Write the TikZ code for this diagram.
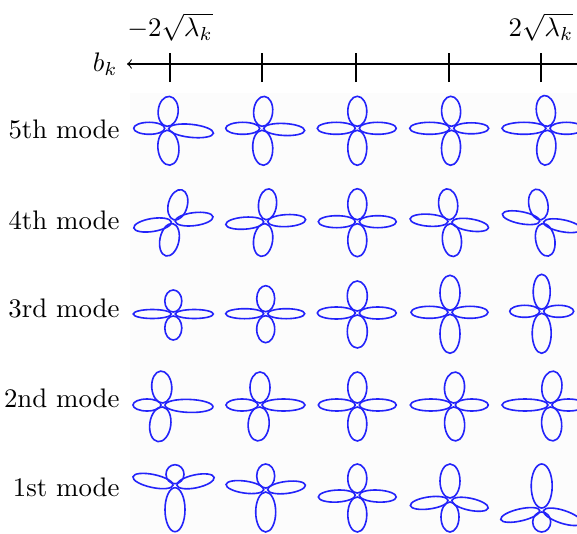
\documentclass[tikz,border=0pt]{standalone}
\definecolor{petalblue}{RGB}{35,35,250}
\newcommand{\flower}[3]{%
  \begin{scope}[shift={(#1,#2)}]
    \foreach \a/\l/\w in {#3}
      \draw[petal, rotate=\a] (1+\l/2,0) ellipse[x radius=\l/2-1, y radius=\w/2];
  \end{scope}}
\begin{document}
\begin{tikzpicture}[x=0.373pt, y=0.373pt, line width=0.4pt,
    petal/.style={petalblue, line width=0.6pt}]
  \useasboundingbox (0,0) rectangle (577,533);
  \fill[black!1] (130,0) rectangle (577,440);
  \node[anchor=east] (bk) at (127,469) {$b_k$};
  \coordinate (axend) at (577,469);
  \draw[->] (axend) -- (bk);
  \foreach \x in {170,262,356,449,541} \draw (\x,451) -- (\x,480);
  \node[inner sep=1pt] (lo) at (170,506) {$-2\sqrt{\lambda_k}$};
  \node[inner sep=1pt] (hi) at (541,506) {$2\sqrt{\lambda_k}$};
  \node[anchor=east] (m5) at (129,404) {5th mode};
  \node[anchor=east] (m4) at (129,313) {4th mode};
  \node[anchor=east] (m3) at (129,225) {3rd mode};
  \node[anchor=east] (m2) at (129,135) {2nd mode};
  \node[anchor=east] (m1) at (129,46) {1st mode};
  \flower{166.7}{404.7}{85/32/20, 275/37/21, 180/33/12, -6/47/13}
  \flower{261.7}{404.7}{85/32/19, 273/37/20, 180/36/12, -3/43/12}
  \flower{357.3}{404.7}{90/32/19, 270/37/19, 180/40/12, 0/39/12}
  \flower{451.7}{404.7}{92/32/19, 268/37/19, 180/42/12, 0/37/11}
  \flower{548}{404.7}{97/33/19, 265/37/19, 180/46/12, 0/35/12}
  \flower{173.3}{311.3}{75/33/19, 258/35/19, 189/40/13, 7/40/13}
  \flower{265.7}{311.3}{84/33/18, 262/35/19, 184/40/12, 3/40/12}
  \flower{357.3}{311.3}{90/33/19, 270/35/19, 180/39/12, 0/39/12}
  \flower{450}{311.3}{96/33/19, 276/35/19, 176/40/12, -9/39/12}
  \flower{541.7}{311.3}{101/33/19, 281/35/19, 169/40/12, -11/40/12}
  \flower{173.3}{219}{90/24/17, 270/26/17, 180/40/9, 0/40/9}
  \flower{265.7}{219.3}{90/28/18, 270/29/18, 180/40/10, 0/39/10}
  \flower{357.3}{220}{90/32/20, 270/35/20, 180/40/12, 0/39/12}
  \flower{450}{220.7}{90/37/20, 270/41/20, 180/39/12, 0/38/12}
  \flower{541.7}{221.7}{90/37/17, 270/42/19, 180/32/12, 0/32/12}
  \flower{163}{128}{94/34/20, 262/37/21, 180/30/12, -2/50/13}
  \flower{260}{128}{90/33/20, 266/36/21, 180/34/12, 0/45/12}
  \flower{357.3}{128}{90/33/19, 270/36/19, 180/39/12, 0/39/12}
  \flower{453.3}{128}{86/33/20, 274/36/20, 180/43/12, 0/35/12}
  \flower{550}{128}{84/34/20, 275/36/20, 180/48/12, 0/35/12}
  \flower{175}{47.3}{90/21/18, 270/46/20, 168/43/13, 12/40/13}
  \flower{265.7}{43}{90/26/18, 270/42/20, 172/40/12, 7/40/12}
  \flower{357.3}{38}{90/31/19, 270/37/19, 183/39/12, -3/39/12}
  \flower{450}{33}{90/36/20, 270/32/18, 188/40/12, -12/39/12}
  \flower{541.7}{23}{90/46/21, 270/22/18, 193/42/12, -18/42/13}
\end{tikzpicture}
\end{document}
